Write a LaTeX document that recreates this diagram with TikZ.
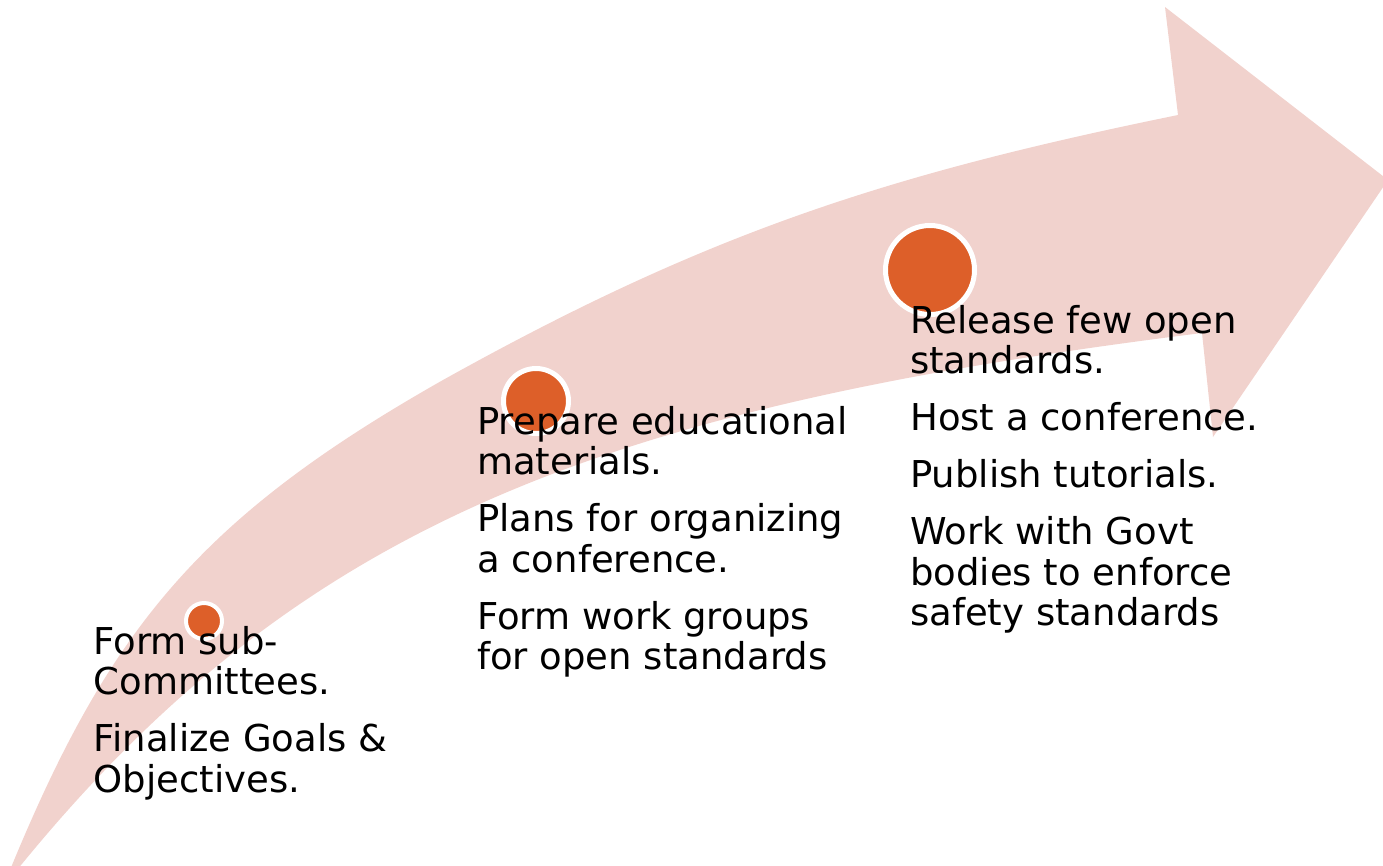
\documentclass[tikz,border=0pt]{standalone}
\usepackage{fontspec}
\setmainfont{DejaVu Sans}
\definecolor{arrowpink}{HTML}{F1D2CD}
\definecolor{dotorange}{HTML}{DD5F29}
\begin{document}
\begin{tikzpicture}[x=1pt,y=-1pt,
  milestone/.style={circle,fill=dotorange,draw=white,inner sep=0pt},
  steptext/.style={anchor=base west,inner sep=0pt,font=\fontsize{37}{40.5}\selectfont}]
\useasboundingbox (0,0) rectangle (1383,865);

% curved upward arrow
\begin{scope}
\clip (0,0) rectangle (1383,865);
\fill[arrowpink]
  (10,870) .. controls (108.8,629.5) and (199.4,518) .. (443,380)
           .. controls (705,234) and (884,175) .. (1178,115)
  -- (1165,7) -- (1388,180) -- (1213,437) -- (1202,333)
  .. controls (606.8,407.4) and (300.5,520.4) .. (17,870)
  -- cycle;
\end{scope}

% milestone dots
\node[milestone,line width=4pt,minimum size=36pt] (m1) at (204,621) {};
\node[milestone,line width=5pt,minimum size=65pt] (m2) at (536,401) {};
\node[milestone,line width=5pt,minimum size=89pt] (m3) at (930,270) {};

% milestone texts
\node[steptext] (t1) at (93.5,654) {\begin{tabular}[t]{@{}l@{}}
  Form sub-\\ Committees.\\[16.5pt]
  Finalize Goals \&\\ Objectives.\end{tabular}};
\node[steptext] (t2) at (477,434) {\begin{tabular}[t]{@{}l@{}}
  Prepare educational\\ materials.\\[16.5pt]
  Plans for organizing\\ a conference.\\[16.5pt]
  Form work groups\\ for open standards\end{tabular}};
\node[steptext] (t3) at (910,333) {\begin{tabular}[t]{@{}l@{}}
  Release few open\\ standards.\\[16.5pt]
  Host a conference.\\[16.5pt]
  Publish tutorials.\\[16.5pt]
  Work with Govt\\ bodies to enforce\\ safety standards\end{tabular}};
\end{tikzpicture}
\end{document}
